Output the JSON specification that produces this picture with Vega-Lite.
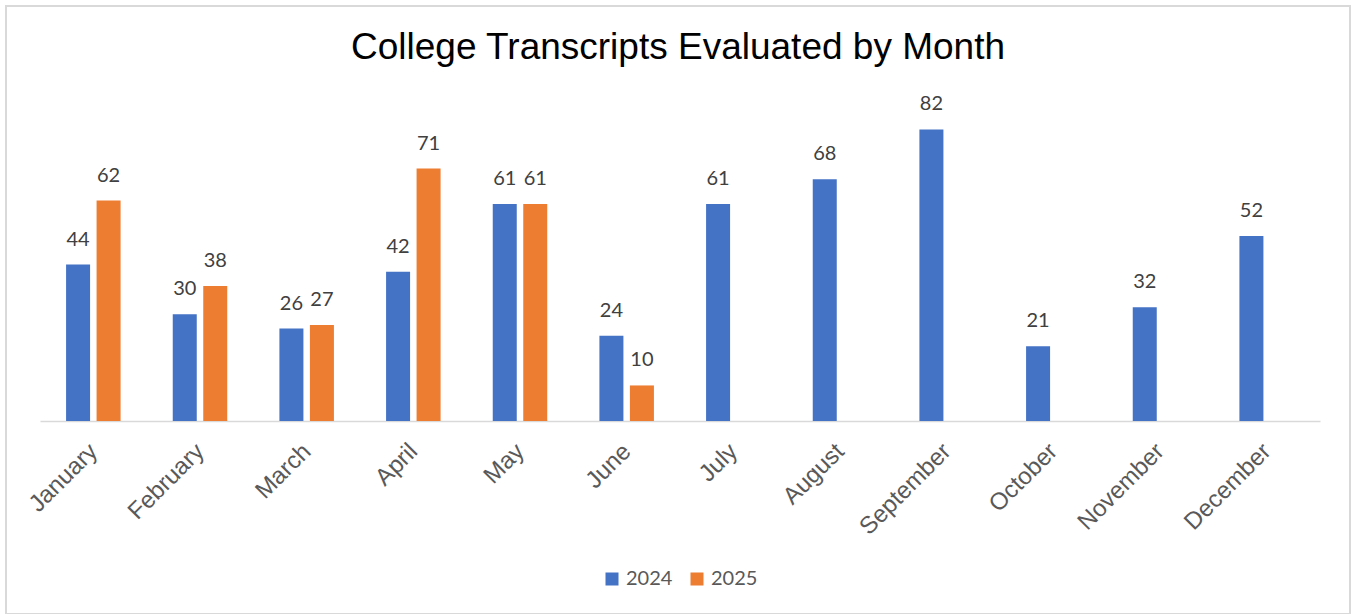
{
  "$schema": "https://vega.github.io/schema/vega-lite/v6.json",
  "autosize": {"type": "none"},
  "width": 1344,
  "height": 608,
  "padding": {"left": 6, "top": 6, "right": 1, "bottom": 0},
  "background": "white",
  "title": {
    "text": "College Transcripts Evaluated by Month",
    "font": "Liberation Sans",
    "fontSize": 37,
    "fontWeight": "normal",
    "color": "#000000",
    "anchor": "middle",
    "baseline": "alphabetic",
    "offset": -90
  },
  "data": {
    "values": [
      {"month": "January", "year": "2024", "value": 44},
      {"month": "February", "year": "2024", "value": 30},
      {"month": "March", "year": "2024", "value": 26},
      {"month": "April", "year": "2024", "value": 42},
      {"month": "May", "year": "2024", "value": 61},
      {"month": "June", "year": "2024", "value": 24},
      {"month": "July", "year": "2024", "value": 61},
      {"month": "August", "year": "2024", "value": 68},
      {"month": "September", "year": "2024", "value": 82},
      {"month": "October", "year": "2024", "value": 21},
      {"month": "November", "year": "2024", "value": 32},
      {"month": "December", "year": "2024", "value": 52},
      {"month": "January", "year": "2025", "value": 62},
      {"month": "February", "year": "2025", "value": 38},
      {"month": "March", "year": "2025", "value": 27},
      {"month": "April", "year": "2025", "value": 71},
      {"month": "May", "year": "2025", "value": 61},
      {"month": "June", "year": "2025", "value": 10}
    ]
  },
  "encoding": {
    "x": {
      "field": "month",
      "type": "nominal",
      "sort": ["January","February","March","April","May","June","July","August","September","October","November","December"],
      "scale": {"paddingInner": 0.489, "paddingOuter": 0.2445, "range": [34, 1314]},
      "axis": {
        "title": null,
        "labelAngle": -45,
        "labelFont": "Liberation Sans",
        "labelFontSize": 24,
        "labelColor": "#595959",
        "ticks": false,
        "labelPadding": 18,
        "labelOffset": -8,
        "domainColor": "#D9D9D9",
        "domainWidth": 1.5,
        "grid": false,
        "offset": -193
      }
    },
    "xOffset": {
      "field": "year",
      "type": "nominal",
      "scale": {"paddingInner": 0.213, "paddingOuter": 0}
    },
    "y": {
      "field": "value",
      "type": "quantitative",
      "scale": {"domain": [0, 90], "nice": false, "range": [415, 95]},
      "axis": null
    }
  },
  "layer": [
    {
      "mark": {"type": "bar"},
      "encoding": {
        "color": {
          "field": "year",
          "type": "nominal",
          "scale": {"domain": ["2024", "2025"], "range": ["#4472C4", "#ED7D31"]},
          "legend": {
            "title": null,
            "orient": "none",
            "legendX": 596,
            "legendY": 563,
            "direction": "horizontal",
            "symbolType": "square",
            "symbolSize": 169,
            "symbolStrokeWidth": 0,
            "labelFont": "Lato",
            "labelFontSize": 20,
            "labelColor": "#595959",
            "columnPadding": 14
          }
        }
      }
    },
    {
      "mark": {"type": "text", "baseline": "alphabetic", "dy": -19, "font": "Lato", "fontSize": 20, "color": "#404040"},
      "encoding": {
        "text": {"field": "value", "type": "quantitative"}
      }
    }
  ],
  "config": {
    "view": {"stroke": "#D9D9D9", "strokeWidth": 2}
  }
}
